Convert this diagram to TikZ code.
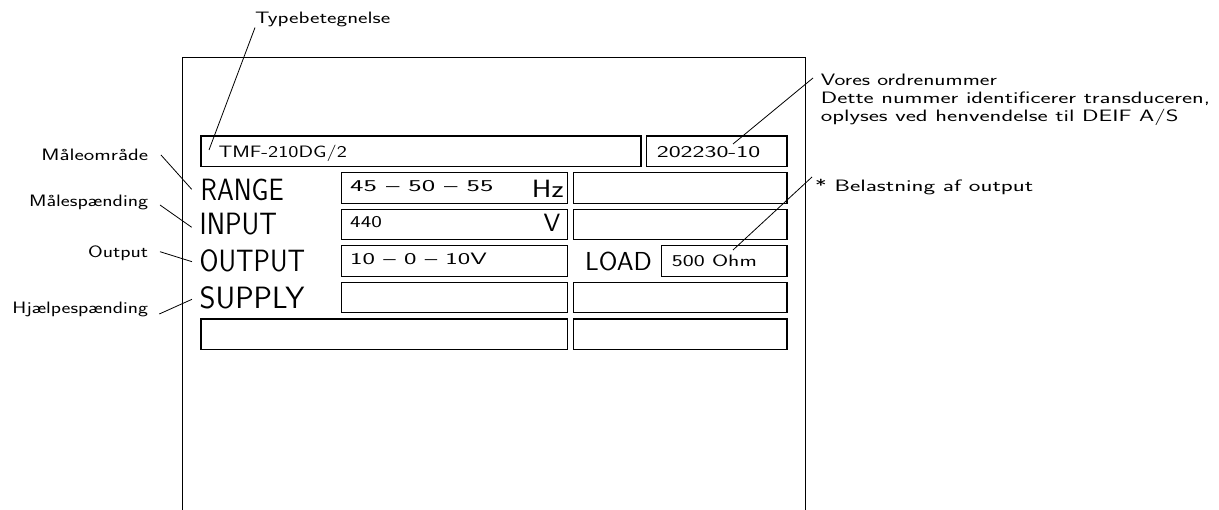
\documentclass[tikz,border=0pt]{standalone}
\usepackage{fontspec}
\usepackage{graphicx}
\newlength\fitlen
\newcommand\fitw[3]{\fontsize{#2}{#2}\selectfont\settowidth\fitlen{#3}\pgfmathsetmacro\fitratio{#1/\fitlen}\scalebox{\fitratio}[1]{#3}}
\tikzset{
  box/.style={draw, line width=1.1pt, inner sep=0pt, outer sep=0pt, anchor=north west},
  txt/.style={inner sep=0pt, anchor=base west, font=\sffamily},
  lbl/.style={inner sep=0pt, anchor=base east, font=\sffamily},
  leader/.style={line width=0.8pt},
  frame/.style={line width=1pt}
}
\begin{document}
\begin{tikzpicture}[x=1pt,y=-1pt]
\useasboundingbox (0,0) rectangle (1219,510);
% outer plate
\draw[frame] (182.5,510) -- (182.5,57.5) -- (805,57.5) -- (805,510);
% boxes
\node[box, minimum width=440pt, minimum height=30.5pt] (tmf) at (201,136) {};
\node[box, minimum width=140.5pt, minimum height=30.5pt] (ord) at (646.5,136) {};
\node[box, minimum width=225.6pt, minimum height=30.5pt] (r1l) at (341.7,172.6) {};
\node[box, minimum width=213.5pt, minimum height=30.5pt] (r1r) at (573.5,172.6) {};
\node[box, minimum width=225.6pt, minimum height=30.5pt] (r2l) at (341.7,209.2) {};
\node[box, minimum width=213.5pt, minimum height=30.5pt] (r2r) at (573.5,209.2) {};
\node[box, minimum width=225.6pt, minimum height=30.5pt] (r3l) at (341.7,245.8) {};
\node[box, minimum width=125.3pt, minimum height=30.5pt] (load) at (661.7,245.8) {};
\node[box, minimum width=225.6pt, minimum height=30.5pt] (r4l) at (341.7,282.4) {};
\node[box, minimum width=213.5pt, minimum height=30.5pt] (r4r) at (573.5,282.4) {};
\node[box, minimum width=366.3pt, minimum height=30.5pt] (r5l) at (201,319) {};
\node[box, minimum width=213.5pt, minimum height=30.5pt] (r5r) at (573.5,319) {};
% box contents
\node[txt] (tmft) at (218.3,157.3) {\fitw{128.4}{16.5}{TMF-210DG/2}};
\node[txt] (ordt) at (656.7,157.7) {\fitw{103.3}{16.5}{202230-10}};
\node[txt] (rng) at (350,191.7) {\fitw{143.3}{16.5}{45 -- 50 -- 55}};
\node[txt] (hz) at (531.7,197.3) {\fitw{31.7}{25}{Hz}};
\node[txt] (inp) at (350,227.7) {\fitw{31.7}{16.5}{440}};
\node[txt] (volt) at (543.3,231.7) {\fitw{16.7}{25}{V}};
\node[txt] (outp) at (350,264.3) {\fitw{136.7}{16.5}{10 -- 0 -- 10V}};
\node[txt] (loadl) at (585,270.7) {\fitw{66.7}{26}{LOAD}};
\node[txt] (ohm) at (671.7,266.7) {\fitw{85}{16.5}{500 Ohm}};
% big labels
\node[txt] (range) at (200.5,200.7) {\fitw{83}{30.8}{RANGE}};
\node[txt] (input) at (199.5,235) {\fitw{77.3}{30.8}{INPUT}};
\node[txt] (output) at (199.5,271.7) {\fitw{105.5}{30.8}{OUTPUT}};
\node[txt] (supply) at (199.5,308.3) {\fitw{104.7}{30.8}{SUPPLY}};
% annotations
\node[txt] (typ) at (255,24) {\fitw{135}{16.5}{Typebetegnelse}};
\node[lbl] (maal) at (148.3,160.7) {\fitw{106.6}{16.5}{Måleområde}};
\node[lbl] (msp) at (148.3,206.7) {\fitw{119}{16.5}{Målespænding}};
\node[lbl] (outl) at (148.3,257.3) {\fitw{60}{16.5}{Output}};
\node[lbl] (hjl) at (148.3,314) {\fitw{135.6}{16.5}{Hjælpespænding}};
\node[txt] (vo1) at (820.7,85.7) {\fitw{176}{16.5}{Vores ordrenummer}};
\node[txt] (vo2) at (820.7,103.8) {\fitw{389.3}{16.5}{Dette nummer identificerer transduceren,}};
\node[txt] (vo3) at (820.7,121.8) {\fitw{357.6}{16.5}{oplyses ved henvendelse til DEIF A/S}};
\node[txt] (bel) at (815,192) {\fitw{218}{16.5}{* Belastning af output}};
% leader ends
\coordinate (typE) at (209,150);
\coordinate (ordE) at (733,144);
\coordinate (ordS) at (813,78);
\coordinate (loadE) at (733,250);
\coordinate (belS) at (812,177);
\coordinate (maalS) at (161,155);
\coordinate (maalE) at (191.7,189.3);
\coordinate (mspS) at (160,205);
\coordinate (mspE) at (191.7,227.3);
\coordinate (outS) at (160,251.7);
\coordinate (outE) at (192,261.7);
\coordinate (hjlS) at (159.3,314);
\coordinate (hjlE) at (192,299.3);
% leaders
\draw[leader] (typ.south west) -- (typE);
\draw[leader] (ordS) -- (ordE);
\draw[leader] (belS) -- (loadE);
\draw[leader] (maalS) -- (maalE);
\draw[leader] (mspS) -- (mspE);
\draw[leader] (outS) -- (outE);
\draw[leader] (hjlS) -- (hjlE);
\end{tikzpicture}
\end{document}
